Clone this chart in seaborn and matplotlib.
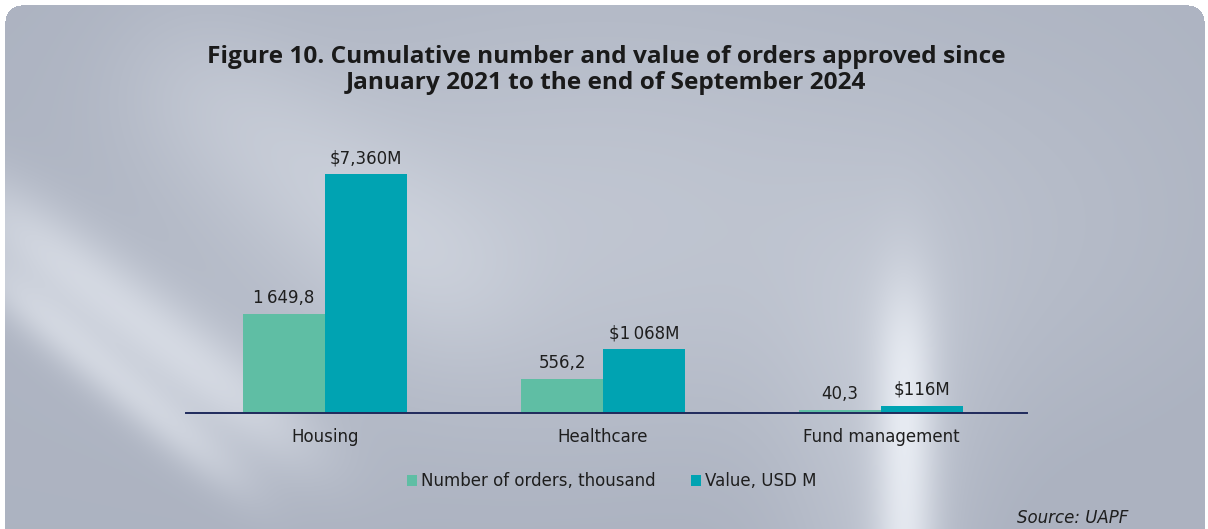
import numpy as np
import pandas as pd
import matplotlib
matplotlib.use("Agg")
import matplotlib.pyplot as plt
import seaborn as sns

# ---------------- data ----------------
categories = ["Housing", "Healthcare", "Fund management"]
series_names = ["Number of orders, thousand", "Value, USD M"]
orders_thousand = [1649.8, 556.2, 40.3]
value_usd_m = [7360, 1068, 116]
orders_labels = ["1\u2009649,8", "556,2", "40,3"]
value_labels = ["$7,360M", "$1\u2009068M", "$116M"]
colors = ["#5fbea4", "#00a3b2"]

title = ("Figure 10. Cumulative number and value of orders approved since\n"
         "January 2021 to the end of September 2024")
source = "Source: UAPF"

df = pd.DataFrame({
    "category": categories * 2,
    "series": [series_names[0]] * 3 + [series_names[1]] * 3,
    "value": orders_thousand + value_usd_m,
})

sns.set_theme(style="white")
plt.rcParams["font.family"] = ["DejaVu Sans"]

W, H = 1208, 529
fig = plt.figure(figsize=(W / 100, H / 100), dpi=100)

# ---------------- background card ----------------
yy, xx = np.mgrid[0:H, 0:W].astype(float)
dark = np.array([0.675, 0.700, 0.755])
light = np.array([0.925, 0.940, 0.965])
w = 0.32 * np.exp(-(((xx - 600) / 430) ** 2 + ((yy - 230) / 230) ** 2))


def streak(x0, y0, x1, y1, width, amp):
    dx, dy = x1 - x0, y1 - y0
    L = np.hypot(dx, dy)
    d = np.abs((xx - x0) * dy - (yy - y0) * dx) / L
    t = ((xx - x0) * dx + (yy - y0) * dy) / L ** 2
    env = np.exp(-((t - 0.5) / 0.45) ** 4)
    return amp * np.exp(-0.5 * (d / width) ** 2) * env


w += streak(-60, 170, 330, 470, 30, 0.55)
w += streak(-40, 250, 260, 500, 18, 0.45)
w += streak(120, 30, 520, 330, 60, 0.25)
glow = np.exp(-0.5 * ((xx - 905) / 22) ** 2) / (1 + np.exp(-(yy - 300) / 35))
w += 0.65 * glow
w += 0.25 * np.exp(-0.5 * ((xx - 880) / 70) ** 2) / (1 + np.exp(-(yy - 260) / 60))
w -= 0.08 * (xx / W) * (yy / H)
w += 0.08 * np.exp(-0.5 * ((xx - 1080) / 150) ** 2) * np.exp(-0.5 * ((yy - 250) / 150) ** 2)
w = np.clip(w, 0, 1)
img = dark[None, None, :] * (1 - w[..., None]) + light[None, None, :] * w[..., None]
x0c, y0c, x1c, y1c, r = 5, 5, 1204, 560, 16
inside = (xx >= x0c) & (xx <= x1c) & (yy >= y0c) & (yy <= y1c)
for cx, cy in [(x0c + r, y0c + r), (x1c - r, y0c + r)]:
    region = (np.abs(xx - cx) <= r) & (yy < cy) & (((xx < cx) & (cx == x0c + r)) | ((xx > cx) & (cx == x1c - r)))
    inside &= ~(region & (((xx - cx) ** 2 + (yy - cy) ** 2) > r ** 2))
img[~inside] = 1.0
bg = fig.add_axes([0, 0, 1, 1], zorder=-10)
bg.imshow(img, aspect="auto", extent=(0, W, H, 0), interpolation="bilinear")
bg.set_axis_off()

# ---------------- main axes ----------------
ax = fig.add_axes([186 / W, (H - 412.5) / H, 841 / W, 238.5 / H])
ax.patch.set_alpha(0)
sns.barplot(data=df, x="category", y="value", hue="series", palette=colors,
            width=0.59, saturation=1, ax=ax, linewidth=0, legend=True)
ax.set_xlim(-0.5, 2.525)
ax.set_ylim(0, 4008)

for container, labels in zip(ax.containers, [orders_labels, value_labels]):
    for bar, lab in zip(container, labels):
        top = min(bar.get_height(), ax.get_ylim()[1])
        ax.annotate(lab, (bar.get_x() + bar.get_width() / 2, top),
                    xytext=(0, 5), textcoords="offset points",
                    ha="center", va="bottom", fontsize=12, color="#1e1e1e",
                    annotation_clip=False)

for s in ["top", "right", "left"]:
    ax.spines[s].set_visible(False)
ax.spines["bottom"].set_color("#1f2a5c")
ax.spines["bottom"].set_linewidth(1.4)
ax.set_yticks([])
ax.set_xlabel("")
ax.set_ylabel("")
ax.tick_params(axis="x", length=0, pad=11, labelsize=12, labelcolor="#1e1e1e")

# ---------------- legend ----------------
handles, labels = ax.get_legend_handles_labels()
ax.legend_.remove()
leg = fig.legend(handles, labels, loc="center left",
                 bbox_to_anchor=(407 / W, (H - 481.5) / H), ncol=2, frameon=False,
                 handlelength=0.6, handleheight=0.6, handletextpad=0.25,
                 columnspacing=2.1, borderpad=0, borderaxespad=0,
                 prop={"size": 12})
for t in leg.get_texts():
    t.set_color("#1e1e1e")

fig.text(606 / W, (H - 70) / H, title, ha="center", va="center",
         fontsize=17.6, fontweight="bold", family=["Open Sans", "DejaVu Sans"],
         color="#1a1a1a", linespacing=1.1)
fig.text(1128 / W, (H - 518) / H, source, ha="right", va="center",
         fontsize=12, style="italic", color="#1e1e1e")

fig.savefig("out.png", dpi=100)
